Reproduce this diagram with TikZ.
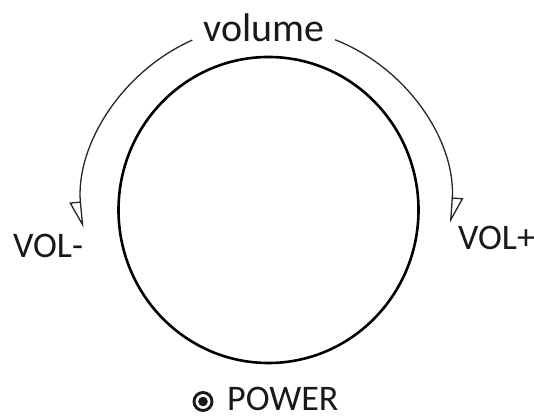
\documentclass[tikz,border=0pt]{standalone}
\usepackage{fontspec}
\setmainfont{Carlito}
\usetikzlibrary{arrows.meta,shapes.geometric}
\tikzset{
  lbl/.style={inner sep=0pt, font=\fontsize{36}{40}\selectfont, text=black!90},
  biglbl/.style={inner sep=0pt, font=\fontsize{40}{44}\selectfont, text=black!90},
  turn/.style={line width=1.3pt, draw=black!85},
  tipL/.style={-{Triangle[open, harpoon, swap, length=25pt, width=22pt, line width=1.3pt]}},
  tipR/.style={-{Triangle[open, harpoon, length=24pt, width=22pt, line width=1.3pt]}},
}
\begin{document}
\begin{tikzpicture}[x=1pt,y=1pt]
\useasboundingbox (0,0) rectangle (534,419);
% knob
\node (knob) [draw, ellipse, line width=2.6pt, minimum width=300pt, minimum height=306pt, inner sep=0pt] at (268.5,209) {};
% labels
\node (vol) [biglbl, anchor=base] at (264,377.3) {volume};
\node (volm) [lbl, anchor=base west] at (13,161.3) {VOL-};
\node (volp) [lbl, anchor=base west] at (458,169) {VOL+};
\node (pwr) [lbl, anchor=base west] at (227,8.5) {POWER};
% power symbol
\coordinate (pc) at (203,17.5);
\draw[line width=2.9pt, black!90] (pc) circle[radius=9];
\fill[black!90] (pc) circle[radius=4.8];
% arcs
\coordinate (c) at (268,209);
\coordinate (ls) at ([shift={(114:186)}]c);
\coordinate (rs) at ([shift={(68.5:183)}]c);
\draw[turn, tipL] (ls) arc[start angle=114, end angle=185.5, radius=186];
\draw[turn, tipR] (rs) arc[start angle=68.5, end angle=-4, radius=183];
\end{tikzpicture}
\end{document}
